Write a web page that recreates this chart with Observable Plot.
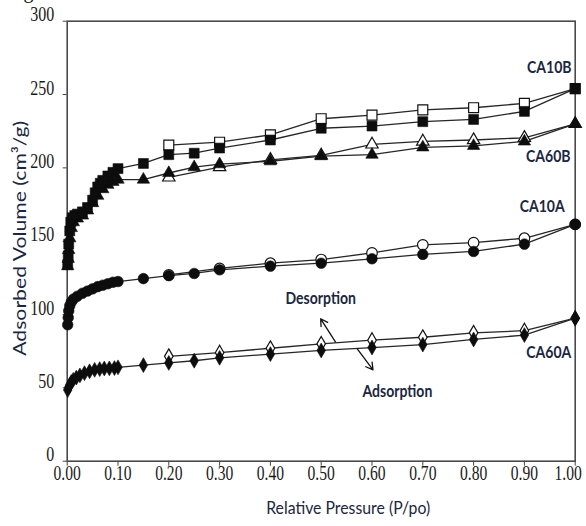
<!DOCTYPE html>
<html><head><meta charset="utf-8">
<script src="https://cdn.jsdelivr.net/npm/d3@7"></script>
<script src="https://cdn.jsdelivr.net/npm/@observablehq/plot@0.6"></script>
<style>
body{margin:0;background:#fff;}
#chart{width:586px;height:526px;overflow:hidden;}
</style>
</head><body><div id="chart"></div>
<script>
const xTicks = [0,0.1,0.2,0.3,0.4,0.5,0.6,0.7,0.8,0.9,1.0];
const yTicks = [0,50,100,150,200,250,300];

// desorption branch pressures (shared)
const desP = [0.2,0.3,0.4,0.5,0.6,0.7,0.8,0.9,1.0];

// CA10B (squares)
const ca10bAdsP = [0.001,0.002,0.003,0.005,0.007,0.01,0.015,0.02,0.03,0.04,0.05,0.055,0.06,0.065,0.07,0.08,0.09,0.1,0.15,0.2,0.25,0.3,0.4,0.5,0.6,0.7,0.8,0.9,1.0];
const ca10bAdsV = [134,140,148,157,163,166,167.5,168.5,170,173,178,183,187,189.5,191.5,194.5,197,199.5,203,209,210,213.5,219,227,228.5,231.5,233,238.5,254];
const ca10bDesV = [215.5,217.5,222.5,233.5,236,239.5,241,244,254];

// CA60B (triangles)
const ca60bAdsP = [0.001,0.002,0.003,0.005,0.008,0.012,0.02,0.03,0.04,0.05,0.06,0.07,0.08,0.09,0.1,0.15,0.2,0.25,0.3,0.4,0.5,0.6,0.7,0.8,0.9,1.0];
const ca60bAdsV = [133,138,144,152,159,163,165.5,167.5,171,176,181,185.5,188.5,190.5,192,192,196.5,200.5,202.5,204.5,208,209,214,215,218,230];
const ca60bDesV = [193.5,200.5,205.5,208.5,216,218,219,220.5,230];

// CA10A (circles)
const ca10aAdsP = [0.001,0.002,0.003,0.005,0.008,0.012,0.02,0.03,0.04,0.05,0.06,0.07,0.08,0.09,0.1,0.15,0.2,0.25,0.3,0.4,0.5,0.6,0.7,0.8,0.9,1.0];
const ca10aAdsV = [93,98,102.5,106,108.5,110.5,112.5,114.5,116,117.5,119,120,121,122,122.5,124.5,126.5,128,130.5,133,135,138,141,143,148,161.5];
const ca10aDesV = [127,131.5,135,137.5,142,147.5,149,152,161.5];

// CA60A (diamonds)
const ca60aAdsP = [0.001,0.003,0.005,0.008,0.012,0.018,0.025,0.034,0.044,0.054,0.064,0.073,0.083,0.093,0.1,0.15,0.2,0.25,0.3,0.4,0.5,0.6,0.7,0.8,0.9,1.0];
const ca60aAdsV = [48.5,50.5,52,54,55.5,57,58.5,60,61.3,62.3,62.8,63.2,63.3,63.5,64,65.5,67,68.5,70.5,73,75.5,77.5,79.5,83,86,97.5];
const ca60aDesV = [71.5,74,77,80,82.5,84.5,87.5,89,97.5];

// annotations
const labelNames = ["CA10B","CA60B","CA10A","CA60A","Desorption","Adsorption"];
const labelP = [0.949,0.947,0.935,0.948,0.499,0.650];
const labelV = [264.7,204.3,170.2,70.4,107.5,44.1];
const arrowP1 = [0.528,0.571];
const arrowV1 = [81.4,76.6];
const arrowP2 = [0.499,0.602];
const arrowV2 = [97.1,62.3];
const yTitle = "Adsorbed Volume (cm³/g)";
const xTitle = "Relative Pressure (P/po)";

const rows = (P, V) => P.map((p, i) => ({p, v: V[i]}));
const a10b = rows(ca10bAdsP, ca10bAdsV), d10b = rows(desP, ca10bDesV);
const a60b = rows(ca60bAdsP, ca60bAdsV), d60b = rows(desP, ca60bDesV);
const a10a = rows(ca10aAdsP, ca10aAdsV), d10a = rows(desP, ca10aDesV);
const a60a = rows(ca60aAdsP, ca60aAdsV), d60a = rows(desP, ca60aDesV);
const labels = labelNames.map((t, i) => ({t, p: labelP[i], v: labelV[i]}));
const arrows = arrowP1.map((p, i) => ({x1: p, y1: arrowV1[i], x2: arrowP2[i], y2: arrowV2[i]}));

const lineOpt = {x: "p", y: "v", stroke: "#262626", strokeWidth: 1.3};
const openOpt = (symbol, r) => ({x: "p", y: "v", symbol, r, fill: "white", stroke: "#111", strokeWidth: 1.2});
const fillOpt = (symbol, r) => ({x: "p", y: "v", symbol, r, fill: "#0d0d0d", stroke: "#0d0d0d", strokeWidth: 0.6});
const sans = "Lato, 'Open Sans', sans-serif";

const plot = Plot.plot({
  width: 586, height: 526,
  marginLeft: 66.7, marginRight: 11.3, marginTop: 20.7, marginBottom: 65.3,
  x: {domain: [0, 1]},
  y: {domain: [0, 300]},
  style: {background: "white", fontFamily: "'Liberation Serif', 'Times New Roman', serif", fontSize: "20px", color: "#1a1a1a"},
  marks: [
    Plot.axisX({ticks: xTicks, tickFormat: d => d.toFixed(2), tickSize: 5, tickPadding: 14, label: null, stroke: "#444"}),
    Plot.axisY({ticks: yTicks, tickSize: 4, tickPadding: 9, label: null, stroke: "#444"}),
    Plot.frame({stroke: "#4a4a4a", strokeWidth: 1.6}),
    Plot.line(a10b, lineOpt), Plot.line(d10b, lineOpt),
    Plot.line(a60b, lineOpt), Plot.line(d60b, lineOpt),
    Plot.line(a10a, lineOpt), Plot.line(d10a, lineOpt),
    Plot.line(a60a, lineOpt), Plot.line(d60a, lineOpt),
    Plot.dot(d60b, openOpt("triangle", 4.6)),
    Plot.dot(d60a, openOpt("diamond", 4.5)),
    Plot.dot(d10a, openOpt("circle", 5.3)),
    Plot.dot(d10b, openOpt("square", 5.6)),
    Plot.dot(a60b, fillOpt("triangle", 4.6)),
    Plot.dot(a10b, fillOpt("square", 5.6)),
    Plot.dot(a10a, fillOpt("circle", 5.3)),
    Plot.dot(a60a, fillOpt("diamond", 4.5)),
    Plot.arrow(arrows, {x1: "x1", y1: "y1", x2: "x2", y2: "y2", stroke: "#111", strokeWidth: 1.3, headLength: 9}),
    Plot.text(labels, {x: "p", y: "v", text: "t", fontFamily: sans, fontWeight: "bold", fontSize: 16.5, fill: "#1b2640"}),
    Plot.text([xTitle], {frameAnchor: "bottom", dx: 27, dy: 53, fontFamily: sans, fontSize: 17, fill: "#1b2640"}),
    Plot.text([yTitle], {x: () => -0.092, y: () => 152, rotate: -90, fontFamily: sans, fontSize: 18, fill: "#1b2640"})
  ]
});

document.getElementById("chart").appendChild(plot);

// condensed look of the original typography
const svg = d3.select(plot);
function squeeze(node, sx, shift = 0) {
  const x = (+node.getAttribute("x") || 0) + shift, y = +node.getAttribute("y") || 0;
  const tr = node.getAttribute("transform") || "";
  node.setAttribute("transform", `${tr} translate(${x},${y}) scale(${sx},1)`);
  node.removeAttribute("x"); node.removeAttribute("y");
}
svg.selectAll("g[aria-label='y-axis tick label'] text").each(function() { squeeze(this, 0.8); });
svg.selectAll("g[aria-label='x-axis tick label'] text").each(function() {
  squeeze(this, 0.78, this.textContent === "1.00" ? -7 : 0);
});
svg.selectAll("text").each(function() {
  const s = this.textContent;
  if (labelNames.includes(s)) squeeze(this, 0.85);
  if (s === xTitle) squeeze(this, 0.93);
  if (s === yTitle) { this.setAttribute("textLength", 235); this.setAttribute("lengthAdjust", "spacingAndGlyphs"); }
});
// clipped caption line from the page above the figure
svg.append("text").attr("x", 43).attr("y", -2.5).attr("font-family", "'Liberation Serif', serif").attr("font-size", 20).attr("fill", "#111").text("Figure 7.");
</script>
</body></html>
